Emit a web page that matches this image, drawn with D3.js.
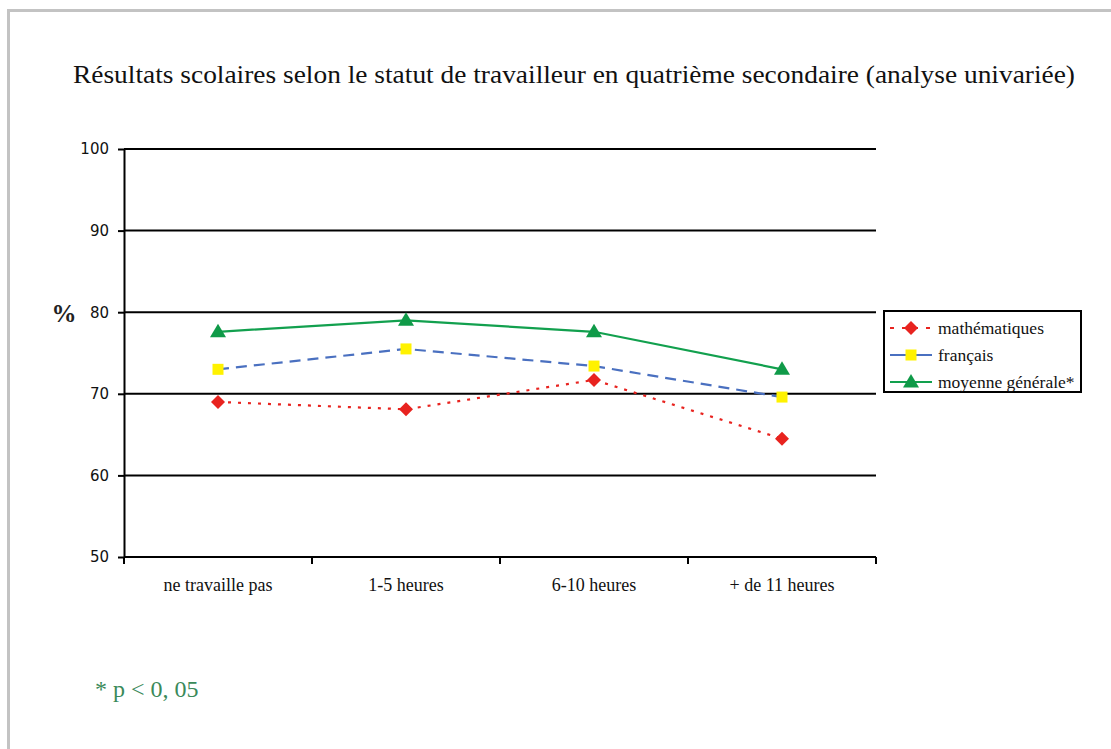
<!DOCTYPE html>
<html>
<head>
<meta charset="utf-8">
<script src="https://cdn.jsdelivr.net/npm/d3@7"></script>
<style>
  body { margin: 0; background: #fff; }
</style>
</head>
<body>
<div id="chart"></div>
<script>
// Data
var categories = ["ne travaille pas", "1-5 heures", "6-10 heures", "+ de 11 heures"];
var mathematiques = [69.0, 68.1, 71.7, 64.5];
var francais = [73.0, 75.5, 73.4, 69.6];
var moyenneGenerale = [77.6, 79.0, 77.6, 73.0];
var yTicks = [50, 60, 70, 80, 90, 100];

var series = [
  { name: "mathématiques", values: mathematiques, color: "#e8231f", dash: "3,7", marker: "diamond", markerColor: "#e8231f" },
  { name: "français", values: francais, color: "#4a70c0", dash: "11,7", marker: "square", markerColor: "#fff200" },
  { name: "moyenne générale*", values: moyenneGenerale, color: "#12a04e", dash: null, marker: "triangle", markerColor: "#0f9a48" }
];

var W = 1111, H = 749;
var plot = { left: 124, right: 876, top: 149, bottom: 557 };
var serif = "Liberation Serif, Times New Roman, serif";

var svg = d3.select("#chart").append("svg")
  .attr("width", W)
  .attr("height", H);

// outer frame
svg.append("rect")
  .attr("x", 8.5).attr("y", 10.5)
  .attr("width", W + 20).attr("height", H + 20)
  .attr("fill", "none")
  .attr("stroke", "#c3c3c3")
  .attr("stroke-width", 3);

// Title
svg.append("text")
  .attr("x", 73).attr("y", 83)
  .attr("font-family", serif)
  .attr("font-size", "25px")
  .attr("textLength", 1002)
  .attr("lengthAdjust", "spacingAndGlyphs")
  .attr("fill", "#111")
  .text("Résultats scolaires selon le statut de travailleur en quatrième secondaire (analyse univariée)");

var x = d3.scaleBand().domain(categories).range([plot.left, plot.right]);
var y = d3.scaleLinear().domain([50, 100]).range([plot.bottom, plot.top]);

// gridlines
svg.append("g")
  .selectAll("line")
  .data(yTicks)
  .enter().append("line")
  .attr("x1", plot.left).attr("x2", plot.right)
  .attr("y1", function(d) { return y(d); })
  .attr("y2", function(d) { return y(d); })
  .attr("stroke", "#000")
  .attr("stroke-width", 2);

// Y axis
var yAxis = svg.append("g")
  .attr("transform", "translate(" + plot.left + ",0)")
  .call(d3.axisLeft(y).tickValues(yTicks).tickSize(6).tickSizeOuter(0).tickPadding(9));
yAxis.select(".domain").attr("stroke-width", 2);
yAxis.selectAll(".tick line").attr("stroke-width", 2);
yAxis.selectAll("text")
  .attr("font-family", "DejaVu Sans, Verdana, sans-serif")
  .attr("font-size", "15px")
  .attr("fill", "#111");

// X axis
var xAxis = svg.append("g")
  .attr("transform", "translate(0," + plot.bottom + ")")
  .call(d3.axisBottom(x).tickSize(0).tickPadding(0));
xAxis.select(".domain").remove();
xAxis.selectAll(".tick line").remove();
xAxis.selectAll("text")
  .attr("y", 34)
  .attr("dy", 0)
  .attr("font-family", serif)
  .attr("font-size", "18px")
  .attr("fill", "#111");

// category boundary ticks
var bounds = categories.map(function(c) { return x(c); }).concat([x(categories[categories.length - 1]) + x.bandwidth()]);
svg.append("g")
  .selectAll("line")
  .data(bounds)
  .enter().append("line")
  .attr("x1", function(d) { return d; }).attr("x2", function(d) { return d; })
  .attr("y1", plot.bottom).attr("y2", plot.bottom + 7)
  .attr("stroke", "#000")
  .attr("stroke-width", 2);

// "%" label
svg.append("text")
  .attr("x", 64).attr("y", 322)
  .attr("text-anchor", "middle")
  .attr("font-family", serif)
  .attr("font-size", "25px")
  .attr("font-weight", "bold")
  .attr("fill", "#222")
  .text("%");

function markerPath(type) {
  if (type === "diamond") return "M0,-7L7,0L0,7L-7,0Z";
  if (type === "square") return "M-5.5,-5.5H5.5V5.5H-5.5Z";
  return "M0,-8L8,5.5L-8,5.5Z";
}

var line = d3.line()
  .x(function(d, i) { return x(categories[i]) + x.bandwidth() / 2; })
  .y(function(d) { return y(d); });

series.forEach(function(s) {
  svg.append("path")
    .datum(s.values)
    .attr("d", line)
    .attr("fill", "none")
    .attr("stroke", s.color)
    .attr("stroke-width", 2.2)
    .attr("stroke-dasharray", s.dash);

  svg.append("g")
    .selectAll("path")
    .data(s.values)
    .enter().append("path")
    .attr("d", markerPath(s.marker))
    .attr("transform", function(d, i) {
      return "translate(" + (x(categories[i]) + x.bandwidth() / 2) + "," + y(d) + ")";
    })
    .attr("fill", s.markerColor);
});

// Legend
var legend = svg.append("g");
legend.append("rect")
  .attr("x", 884).attr("y", 311)
  .attr("width", 197).attr("height", 81)
  .attr("fill", "#fff")
  .attr("stroke", "#000")
  .attr("stroke-width", 2);

var items = legend.selectAll("g.item")
  .data(series)
  .enter().append("g")
  .attr("class", "item")
  .attr("transform", function(d, i) { return "translate(0," + (328 + i * 27) + ")"; });

items.append("line")
  .attr("x1", 890).attr("x2", 932)
  .attr("y1", 0).attr("y2", 0)
  .attr("stroke", function(d) { return d.color; })
  .attr("stroke-width", 2.2)
  .attr("stroke-dasharray", function(d) { return d.marker === "diamond" ? "4,8" : null; });

items.append("path")
  .attr("d", function(d) { return markerPath(d.marker); })
  .attr("transform", "translate(911,0)")
  .attr("fill", function(d) { return d.markerColor; });

items.append("text")
  .attr("x", 938).attr("y", 5.5)
  .attr("font-family", serif)
  .attr("font-size", "17.5px")
  .attr("fill", "#111")
  .text(function(d) { return d.name; });

// Footnote
svg.append("text")
  .attr("x", 95).attr("y", 697)
  .attr("font-family", serif)
  .attr("font-size", "24px")
  .attr("fill", "#3a8a5a")
  .text("* p < 0, 05");
</script>
</body>
</html>
